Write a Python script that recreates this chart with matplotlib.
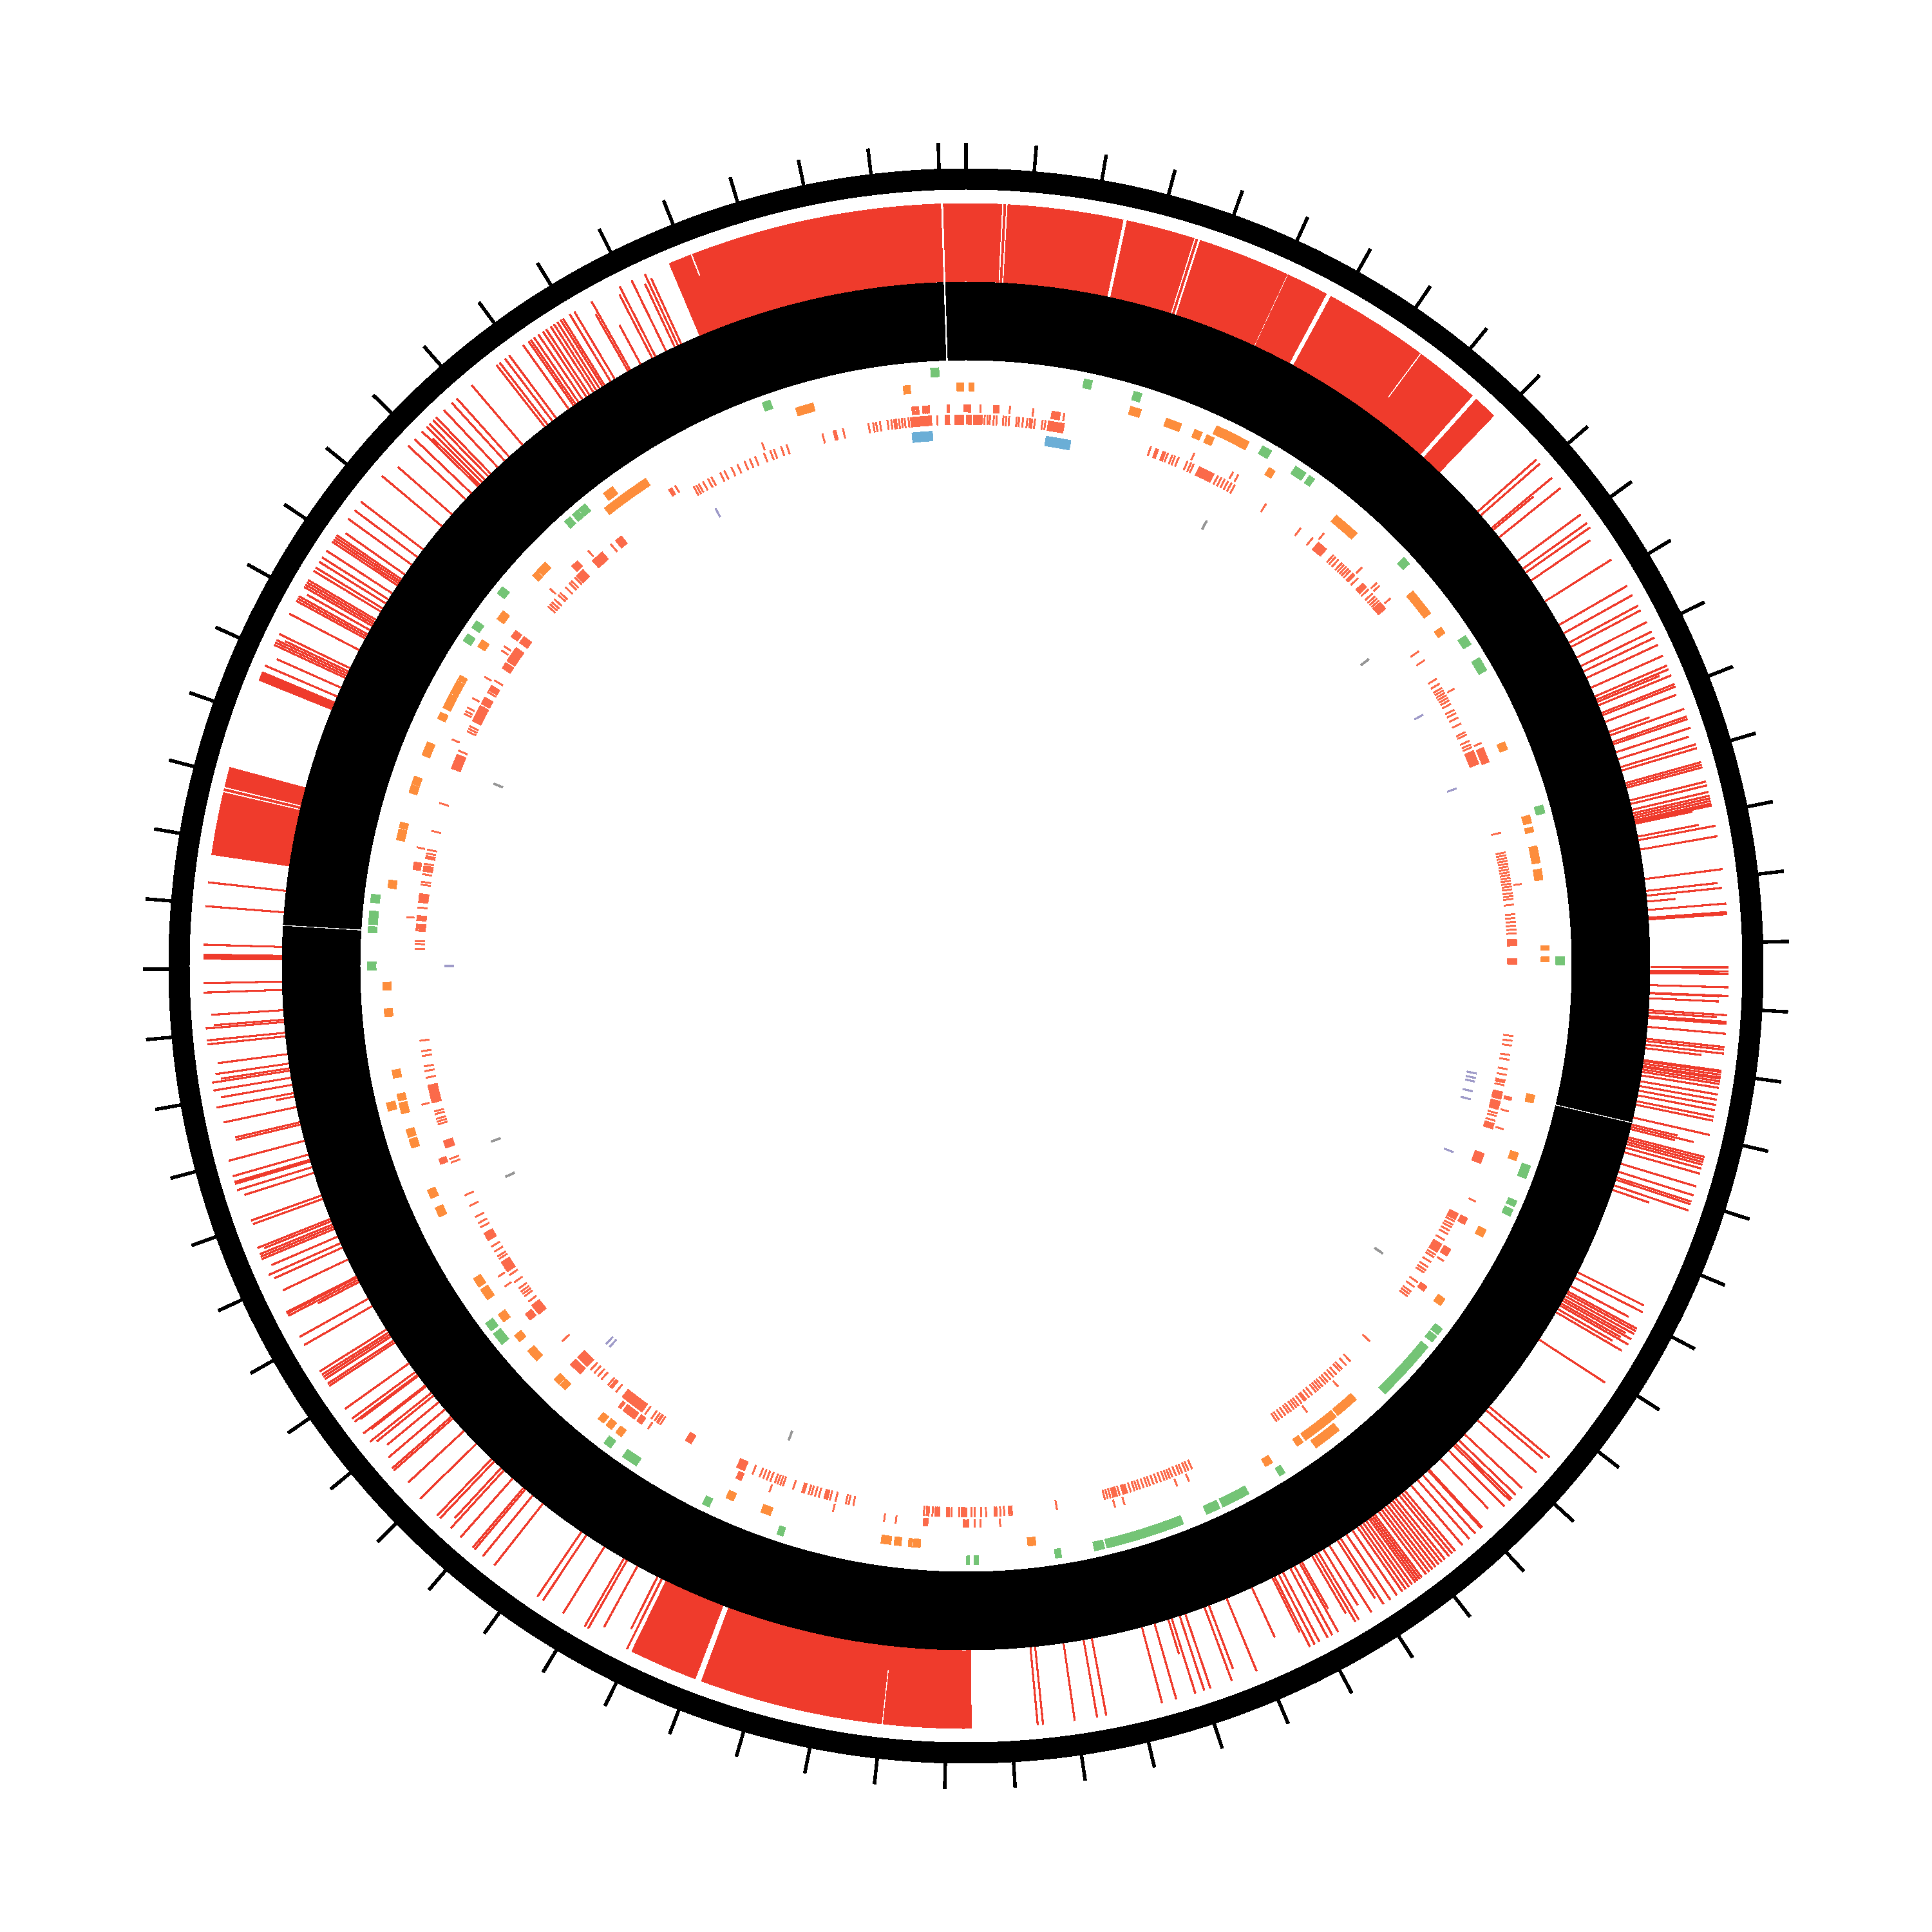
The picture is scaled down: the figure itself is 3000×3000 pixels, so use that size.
import numpy as np
import matplotlib
matplotlib.use("Agg")
import matplotlib.pyplot as plt

# all positions are degrees clockwise from the top of the circle
genome_kb = 7339.5
tick_kb = list(range(0, 7400, 100))

# outer track, blocks of full height
red_blocks = [(0, 2.7), (2.85, 3.0), (3.15, 11.9), (12.2, 17.4), (17.55, 17.7), (17.9, 24.9), (25.0, 28.2),
              (28.6, 41.6), (42.0, 43.8), (179.6, 200.3), (200.8, 206.0),
              (278.4, 283.15), (283.3, 283.45), (283.6, 285.1), (292.0, 292.7),
              (337.1, 358.1), (358.3, 360)]

# outer track, lines that reach the top
red_lines = [48.4, 48.8, 50.2, 51.2, 53.7, 54.5, 54.9, 57.8, 60.1, 60.9, 61.8, 62.2, 63.2, 64.0, 64.5, 65.1, 66.0,
             66.8, 67.1, 67.6, 68.3, 68.5, 70.3, 70.9, 71.1, 71.8, 73.1, 73.4, 74.5, 74.7, 74.9, 76.0, 76.3, 76.8,
             77.1, 77.3, 77.5, 77.7, 77.85, 79.4, 80.2, 82.7, 85.3, 85.95, 86.1, 90.1, 90.4, 90.6, 91.6, 92.25,
             93.7, 94.2, 94.35, 95.1, 96.1, 96.3, 96.6, 97.9, 98.0, 98.2, 98.4, 98.5, 98.7, 98.9, 99.2, 99.7,
             100.1, 100.5, 100.9, 101.4, 101.7, 102.8, 104.5, 104.7, 104.9, 105.1, 105.4, 105.8, 106.8, 107.5,
             108.0, 108.2, 108.7, 118.4, 118.6, 118.85, 119.3, 119.75,
             123.1, 130.1, 131.6, 133.2, 133.9, 134.3, 134.5, 135.1, 137.4, 137.5, 138.1, 138.7, 139.4, 140.1,
             140.4, 140.7, 141.1, 141.4, 141.7, 142.0, 142.3, 142.6, 142.9, 143.3, 143.5, 143.7, 143.9, 144.2,
             144.5, 144.8, 145.1, 145.6, 146.2, 146.8, 147.9, 149.0, 149.3, 150.8, 151.3, 151.7, 152.4, 152.8,
             153.2, 157.6, 159.6, 161.3, 161.8, 162.5, 164.0, 165.1, 169.4, 170.1, 171.8, 174.2, 174.6,
             206.4, 209.7, 210.0, 211.9, 213.7, 214.2, 218.2, 219.3, 220.1, 220.3, 221.5, 222.5, 223.6, 223.9,
             225.7, 228.6, 228.8, 231.4, 232.2, 233.3, 233.6, 234.5, 236.6, 236.8, 237.2, 237.4, 237.6, 237.9,
             240.2, 240.9, 242.7, 242.9, 243.0, 246.1, 247.4, 247.6, 247.8, 248.3, 252.9, 253.4, 253.55, 254.0,
             255.2, 259.3, 260.6, 261.2, 264.1, 264.4, 265.3, 268.0, 268.7, 270.55, 270.7, 270.85, 271.6, 274.5,
             276.3, 293.2, 294.9, 295.1, 295.3, 295.8, 297.5, 298.6, 298.8, 299.0, 299.8, 300.0, 300.2, 300.4,
             301.2, 301.5, 302.0, 302.4, 303.0, 303.8, 304.0, 304.2, 304.4, 305.9, 306.7, 307.5, 310.0, 313.0,
             313.7, 314.5, 315.0, 315.3, 315.7, 316.0, 316.8, 317.6, 318.1, 319.6, 322.0, 322.3, 322.8, 323.2,
             324.5, 325.0, 325.2, 325.5, 325.9, 326.3, 326.6, 327.0, 327.3, 327.6, 327.9, 328.1, 328.7, 329.1,
             330.6, 333.0, 334.0, 335.1]

# outer track, lower lines: position and where the line stops
low_line_deg = [50.4, 55.7, 67.3, 69.1, 70.0, 72.4, 78.0, 79.1, 83.7, 84.1, 84.6, 90.55, 92.3, 92.7, 93.9, 96.9,
                103.4, 103.6, 103.8, 109.1, 116.6, 117.1, 117.9, 119.1, 119.55, 120.1, 120.4, 130.5, 136.1, 147.1,
                148.5, 149.6, 150.6,
                153.4, 155.3, 159.2, 162.8, 206.8, 208.7, 222.8, 227.2, 229.6, 230.4, 231.1, 232.1, 233.2, 242.5,
                244.6, 245.7, 246.7, 248.1, 250.1, 250.4, 252.4, 256.6, 256.8, 258.1, 259.0, 260.0, 261.4, 261.8,
                262.6, 265.5, 266.3, 294.0, 295.5, 299.4, 304.9, 311.3, 314.7, 330.4, 331.6, 332.7, 334.8, 335.4]
low_line_top = [1143, 1173, 1167, 1180, 1129, 1177, 1153, 1158, 1174, 1180, 1106, 1170, 1170, 1170, 1168, 1150,
                1135, 1162, 1133, 1122, 1177, 1180, 1164, 1172, 1168, 1160, 1180, 1177, 1169, 1169,
                1164, 1165, 1145,
                1157, 1147, 1167, 1118, 1153, 1170, 1168, 1180, 1177, 1166, 1175, 1170, 1174, 1134,
                1174, 1178, 1174, 1174, 1177, 1178, 1175, 1165, 1165, 1178, 1091, 1174, 1170, 1177,
                1171, 1171, 1174, 1171, 1171, 1174, 1174, 1174, 1164, 1164, 1131, 1173, 1170, 1174]

# green features
green_spans = [(11.4, 12.2), (16.3, 17.1), (29.7, 30.7), (33.4, 34.6), (35.0, 35.6), (47.0, 47.8), (56.5, 57.5),
               (59.0, 60.4), (74.4, 75.2), (89.1, 89.9), (109.5, 110.8), (113.1, 113.7), (114.0, 114.7),
               (127.3, 128.0), (128.2, 128.9), (129.5, 135.6), (147.8, 148.4), (151.8, 154.6), (154.9, 156.3),
               (158.7, 166.4), (166.6, 167.6), (170.8, 171.4), (178.8, 179.2), (179.64, 180.0), (197.8, 198.4),
               (205.4, 206.1), (213.4, 215.0), (216.4, 217.2), (230.8, 231.35), (231.4, 232.1), (232.45, 233.35),
               (269.6, 270.4), (273.2, 273.8), (274.0, 275.3), (276.1, 276.9), (302.9, 303.7), (304.4, 305.2),
               (308.5, 309.3), (317.9, 318.6), (318.9, 319.6), (319.7, 320.5), (340.1, 340.9), (356.6, 357.4)]

# orange features
orange_spans = [(0.3, 0.8), (16.4, 17.5), (20.1, 21.7), (23.1, 23.9), (24.4, 25.2), (31.3, 32.0), (39.4, 42.1),
                (50.0, 52.8), (54.5, 55.2), (67.4, 68.2), (75.0, 75.8), (76.2, 76.7), (78.1, 79.8), (80.4, 81.5),
                (88.0, 88.45), (89.1, 89.6), (102.8, 103.6), (108.7, 109.5), (116.9, 117.7), (124.8, 125.6),
                (138.0, 140.4), (140.6, 144.4), (144.7, 145.4), (148.3, 149.1), (173.1, 173.9), (184.5, 185.2),
                (185.3, 185.7), (186.4, 187.1), (187.4, 188.4), (199.6, 200.6), (203.5, 204.3), (216.2, 216.9),
                (217.4, 218.1), (218.4, 219.1), (223.4, 224.1), (224.2, 224.9), (227.4, 228.7), (229.9, 230.7),
                (232.4, 233.3), (235.1, 236.3), (236.6, 237.6), (244.5, 245.5), (246.5, 247.4), (251.8, 252.7),
                (252.9, 253.7), (255.3, 256.4), (256.6, 257.3), (258.9, 259.7), (265.0, 265.8), (267.6, 268.4),
                (277.7, 278.5), (282.5, 283.6), (283.7, 284.3), (287.3, 288.1), (288.2, 289.0), (291.2, 292.6),
                (295.1, 295.8), (296.3, 297.8), (297.9, 299.3), (299.4, 299.9), (303.2, 304.0), (306.5, 307.5),
                (312.0, 312.6), (312.7, 313.8), (321.7, 326.7), (343.0, 344.8), (353.8, 354.5), (359.1, 359.8)]
orange_high_spans = [(24.9, 28.4), (141.2, 144.0), (255.9, 256.7), (322.5, 323.6)]

# inner red track, outer row
red_a_spans = [(-0.2, 0.5), (2.8, 3.4), (8.8, 9.7), (67.1, 68.7), (120.3, 121.1), (124.8, 125.4), (116.7, 117.4),
               (179.7, 180.3), (183.9, 184.4), (203.6, 204.2), (215.3, 215.9), (216.2, 217.5), (223.4, 224.8),
               (230.9, 231.7), (249.3, 249.9), (279.9, 280.7), (305.9, 306.7), (315.4, 316.2), (328.0, 328.4)]
red_a_lines = [1.5, 4.5, 6.9, 10.1, 24.0, 28.4, 29.0, 39.6, 44.8, 47.0, 47.4, 49.1, 60.4, 66.6, 81.6, 103.6, 103.8,
               105.0, 106.9, 114.8, 121.7, 142.6, 138.5, 156.6, 157.9, 163.6, 164.6, 176.5, 178.5, 179.1, 187.2,
               188.4, 193.7, 200.5, 214.5, 217.6, 218.0, 218.2, 235.2, 236.4, 255.7, 275.0, 282.2, 293.8, 296.7,
               297.0, 297.4, 298.5, 301.0, 304.2, 304.7, 312.2, 317.7, 328.8, 338.7, 354.5, 354.7, 354.9, 355.1,
               355.6, 355.8, 356.0, 356.2, 358.1, 358.25]

# inner red track, inner row
red_b_spans = [(0.8, 1.7), (8.6, 10.3), (46.0, 46.6), (48.7, 49.6), (67.0, 68.5), (89.2, 89.8), (87.2, 87.9),
               (103.2, 104.0), (104.2, 105.1), (106.6, 107.2), (109.9, 111.0), (116.7, 117.4), (120.3, 121.3),
               (179.9, 180.5), (203.7, 204.6), (209.9, 210.6), (216.0, 218.6), (223.4, 224.8), (230.8, 232.0),
               (236.3, 237.5), (240.1, 241.0), (250.7, 251.5), (255.6, 256.4), (256.4, 257.5), (279.9, 280.5),
               (291.0, 292.6), (296.4, 298.2), (298.4, 299.2), (300.0, 300.6), (302.7, 303.4), (303.6, 305.3),
               (305.9, 306.7), (315.0, 316.0), (317.3, 318.0), (318.0, 318.7), (320.5, 321.3), (354.2, 356.4),
               (357.8, 358.3)]
red_b_lines = [-1.1, -0.9, 0.1, 0.3, 0.5, 1.95, 2.25, 2.5, 2.9, 3.2, 3.9, 4.2, 4.5, 5.3, 5.55, 5.95, 6.4, 6.7, 6.9,
               7.2, 8.0, 8.3, 19.6, 20.2, 20.4, 21.0, 21.2, 21.5, 22.0, 22.3, 22.7, 23.7, 24.1, 24.4, 25.1, 25.3, 25.5,
               25.7, 25.9, 26.1, 26.3, 26.5, 26.7, 27.2, 27.6, 28.0, 28.4, 28.8, 29.2, 33.0, 37.4, 39.0, 39.8, 40.0,
               40.2, 40.4, 40.6, 40.8, 41.8, 42.1, 42.5, 43.0, 43.3, 43.6, 43.9, 44.2, 44.6, 44.8, 45.3, 46.9, 47.5,
               47.9, 48.2, 48.5, 55.2, 56.3, 58.6, 59.2, 59.7, 60.0, 60.3, 60.6, 60.9, 61.2, 61.6, 62.3, 62.7, 63.2,
               63.9, 64.9, 65.2, 65.9, 66.3, 66.6, 76.0, 78.1, 78.4, 78.7, 79.0, 79.3, 79.6, 79.9, 80.2, 80.5, 80.8,
               81.1, 81.4, 81.7, 82.0, 82.4, 82.7, 83.0, 83.6, 84.6, 85.0, 85.4, 85.8, 86.2, 86.6, 97.3, 97.8, 98.3,
               99.3, 99.8, 100.8, 101.4, 102.0, 102.2, 102.5, 105.5, 105.8, 106.3, 117.6, 118.0, 118.3, 118.7, 119.1,
               119.8, 121.6, 121.9, 122.5, 123.1, 123.5, 123.8, 125.0, 125.6, 126.2, 126.5, 126.8, 132.9, 135.8,
               136.4, 137.0, 137.3, 137.8, 138.2, 138.6, 139.0, 139.3, 139.7, 140.0, 140.3, 140.6, 141.1, 141.5,
               141.9, 142.1, 142.5, 142.9, 143.2, 143.5, 143.9, 144.2, 144.6, 145.0, 145.4, 145.7, 155.8, 156.2,
               156.5, 156.9, 157.2, 157.6, 158.0, 158.3, 158.6, 158.9, 159.3, 159.7, 160.1, 160.5, 160.8, 161.2,
               161.6, 161.9, 162.2, 162.6, 163.0, 163.2, 163.4, 163.8, 164.1, 164.3, 164.5, 164.8, 165.1, 165.4,
               170.5, 175.2, 175.3, 175.5, 176.0, 176.4, 176.8, 177.0, 177.9, 178.4, 179.1, 179.4, 180.7, 181.5,
               181.8, 182.0, 182.8, 183.0, 183.2, 183.5, 183.9, 184.1, 184.4, 191.8, 192.3, 192.6, 193.7, 194.3, 194.6,
               194.8, 194.9, 195.5, 195.9, 196.3, 196.6, 197.1, 197.3, 198.3, 199.4, 199.7, 200.0, 200.3, 200.8, 201.2,
               201.6, 202.0, 202.8, 213.7, 214.0, 214.1, 214.4, 214.8, 215.6, 219.4, 220.0, 220.2, 220.5, 221.4, 221.9,
               222.4, 222.9, 227.1, 232.5, 233.2, 233.5, 233.8, 234.2, 235.0, 235.9, 237.9, 238.2, 238.8, 239.4, 241.7,
               242.2, 242.9, 244.2, 245.4, 249.1, 249.5, 253.3, 253.6, 253.9, 254.4, 254.7, 258.3, 259.0, 259.5, 260.6,
               261.1, 262.2, 271.8, 272.3, 272.6, 273.7, 273.9, 274.1, 274.3, 274.8, 275.0, 275.2, 276.1, 276.7, 276.9,
               277.1, 277.3, 277.5, 278.5, 278.8, 279.6, 280.7, 281.3, 281.5, 281.8, 282.2, 284.2, 287.2, 293.0, 295.2,
               295.5, 295.8, 299.8, 301.2, 310.7, 311.0, 311.3, 311.7, 312.3, 312.6, 313.4, 314.0, 314.3, 314.8, 319.9,
               330.4, 330.7, 331.0, 331.5, 332.1, 332.5, 333.5, 334.0, 334.8, 335.5, 336.3, 336.9, 337.5, 338.5,
               339.2, 339.6, 340.4, 341.0, 344.9, 346.1, 346.3, 347.1, 349.8, 350.3, 350.6, 351.0, 351.8, 352.2,
               352.5, 352.7, 353.0, 353.3, 353.6, 354.0, 357.0, 358.9, 359.1, 359.3, 359.5, 359.7]

blue_spans = [(8.6, 11.3), (354.2, 356.4)]
purple_lines = [61.2, 70.1, 101.9, 102.4, 102.8, 103.9, 104.8, 110.9, 223.1, 223.6, 270.0, 331.3]
gray_lines = [28.4, 52.7, 124.6, 200.5, 245.4, 249.7, 291.1]

fig = plt.figure(figsize=(10, 10), dpi=300, facecolor="white")
ax = fig.add_axes([0, 0, 1, 1], projection="polar")
ax.set_theta_zero_location("N")
ax.set_theta_direction(-1)
ax.set_ylim(0, 1500)
ax.axis("off")


def spans(pairs, r0, r1, color, z=2):
    a = np.array(pairs, dtype=float)
    ax.bar(np.radians(a[:, 0]), r1 - r0, width=np.radians(a[:, 1] - a[:, 0]), bottom=r0, align="edge",
           color=color, linewidth=0, antialiased=False, zorder=z)


def lines(deg, r0, r1, color, w=0.11, z=2):
    d = np.array(deg, dtype=float)
    ax.bar(np.radians(d), np.array(r1) - r0, width=np.radians(w), bottom=r0, color=color,
           linewidth=0, antialiased=False, zorder=z)


# rings
spans([(0, 360)], 941, 1062, "black", z=1)
spans([(0, 360)], 1206, 1238, "black", z=1)
lines(np.array(tick_kb) / genome_kb * 360, 1238, 1278, "black", w=0.2)
lines([358.2], 941, 1062, "white", w=0.08, z=3)
lines([103.25, 273.4], 941, 1062, "white", w=0.015, z=3)

# outer red track
spans(red_blocks, 1063, 1184, "#ef3b2c")
lines(red_lines, 1063, 1184, "#ef3b2c")
lines(low_line_deg, 1063, low_line_top, "#ef3b2c")
lines([36.6, 186.3], 1100, 1184, "white", w=0.02, z=3)
lines([338.9], 1150, 1184, "white", w=0.05, z=3)

# inner tracks
spans(green_spans, 916, 930, "#74c476")
spans(orange_spans, 893, 906, "#fd8d3c")
spans(orange_high_spans, 911, 925, "#fd8d3c")
spans(red_a_spans, 860, 872, "#fb6a4a")
lines(red_a_lines, 860, 872, "#fb6a4a", w=0.13)
spans(red_b_spans, 841, 856, "#fb6a4a")
lines(red_b_lines, 841, 856, "#fb6a4a", w=0.13)
spans(blue_spans, 817, 832, "#6baed6")
lines(purple_lines, 795, 810, "#9e9ac8", w=0.15)
lines(gray_lines, 771, 786, "#969696", w=0.2)

fig.savefig("out.png", dpi=300, facecolor="white")
